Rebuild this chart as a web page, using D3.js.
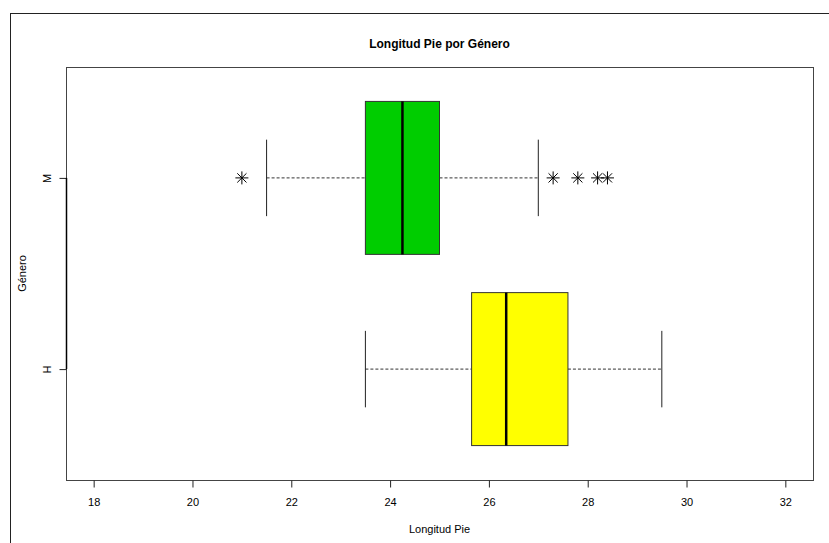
<!DOCTYPE html>
<html>
<head>
<meta charset="utf-8">
<script src="https://cdn.jsdelivr.net/npm/d3@7"></script>
<style>
  html, body { margin: 0; padding: 0; background: #fff; }
  svg { display: block; font-family: "Liberation Sans", Arial, sans-serif; }
</style>
</head>
<body>
<svg id="chart" width="829" height="543"></svg>
<script>
// ---- data ----
const categories = ["H", "M"];
const q1 = [25.65, 23.5];
const medians = [26.35, 24.25];
const q3 = [27.6, 25.0];
const whiskerLow = [23.5, 21.5];
const whiskerHigh = [29.5, 27.0];
const outliersH = [];
const outliersM = [21.0, 27.3, 27.8, 28.2, 28.4];
const boxColors = ["#FFFF00", "#00CD00"];
const xTicks = [18, 20, 22, 24, 26, 28, 30, 32];
const title = "Longitud Pie por Género";
const xLabel = "Longitud Pie";
const yLabel = "Género";

const outliers = [outliersH, outliersM];

// ---- layout ----
const svg = d3.select("#chart");
const plot = { left: 66, right: 813, top: 67, bottom: 480 };

const xPad = (xTicks[xTicks.length - 1] - xTicks[0]) * 0.04;
const x = d3.scaleLinear()
  .domain([xTicks[0] - xPad, xTicks[xTicks.length - 1] + xPad])
  .range([plot.left, plot.right]);

const yPad = (categories.length + 0.5 - 0.5) * 0.04;
const y = d3.scaleLinear()
  .domain([0.5 - yPad, categories.length + 0.5 + yPad])
  .range([plot.bottom, plot.top]);

// outer frame
svg.append("rect")
  .attr("x", 10.5).attr("y", 13.5)
  .attr("width", 840).attr("height", 560)
  .attr("fill", "none").attr("stroke", "#222").attr("stroke-width", 1);

// plot frame
svg.append("rect")
  .attr("x", plot.left + 0.5).attr("y", plot.top + 0.5)
  .attr("width", plot.right - plot.left).attr("height", plot.bottom - plot.top)
  .attr("fill", "none").attr("stroke", "#444").attr("stroke-width", 1);

// title
svg.append("text")
  .attr("x", (plot.left + plot.right) / 2).attr("y", 48)
  .attr("text-anchor", "middle")
  .attr("font-size", 12).attr("font-weight", "bold")
  .text(title);

// x axis
const xAxis = svg.append("g")
  .attr("transform", `translate(0,${plot.bottom + 0.5})`)
  .call(d3.axisBottom(x).tickValues(xTicks).tickSize(7).tickSizeOuter(0).tickFormat(d3.format("d")));
xAxis.select(".domain").remove();
xAxis.selectAll(".tick line").attr("stroke", "#222");
xAxis.selectAll(".tick text")
  .attr("y", 25.5).attr("dy", null)
  .attr("font-size", 11).attr("font-family", "Liberation Sans, Arial, sans-serif").attr("fill", "#000");

svg.append("text")
  .attr("x", (plot.left + plot.right) / 2).attr("y", 533)
  .attr("text-anchor", "middle").attr("font-size", 11)
  .text(xLabel);

// y axis
const yAxis = svg.append("g")
  .attr("transform", `translate(${plot.left + 0.5},0)`)
  .call(d3.axisLeft(y).tickValues(categories.map((c, i) => i + 1)).tickSize(7)
    .tickFormat((d) => categories[d - 1]));
yAxis.select(".domain").remove();
yAxis.selectAll(".tick line").attr("stroke", "#222");
yAxis.selectAll(".tick text")
  .attr("x", 0).attr("dy", null).attr("y", -16)
  .attr("transform", "rotate(-90)")
  .attr("text-anchor", "middle")
  .attr("font-size", 11).attr("font-family", "Liberation Sans, Arial, sans-serif").attr("fill", "#000");
svg.append("line")
  .attr("x1", plot.left + 0.5).attr("x2", plot.left + 0.5)
  .attr("y1", y(1)).attr("y2", y(categories.length))
  .attr("stroke", "#000").attr("stroke-width", 1.5);

svg.append("text")
  .attr("transform", `translate(26,${(plot.top + plot.bottom) / 2}) rotate(-90)`)
  .attr("text-anchor", "middle").attr("font-size", 11)
  .text(yLabel);

// boxes
const halfBox = 0.4;
const halfCap = 0.2;
categories.forEach((c, i) => {
  const pos = i + 1;
  const g = svg.append("g");
  const yc = y(pos);
  // whiskers (dashed)
  g.append("line")
    .attr("x1", x(whiskerLow[i])).attr("x2", x(q1[i]))
    .attr("y1", yc).attr("y2", yc)
    .attr("stroke", "#333").attr("stroke-dasharray", "3,2");
  g.append("line")
    .attr("x1", x(q3[i])).attr("x2", x(whiskerHigh[i]))
    .attr("y1", yc).attr("y2", yc)
    .attr("stroke", "#333").attr("stroke-dasharray", "3,2");
  // caps
  [whiskerLow[i], whiskerHigh[i]].forEach((v) => {
    g.append("line")
      .attr("x1", x(v)).attr("x2", x(v))
      .attr("y1", y(pos + halfCap)).attr("y2", y(pos - halfCap))
      .attr("stroke", "#222");
  });
  // box
  g.append("rect")
    .attr("x", x(q1[i])).attr("width", x(q3[i]) - x(q1[i]))
    .attr("y", y(pos + halfBox)).attr("height", y(pos - halfBox) - y(pos + halfBox))
    .attr("fill", boxColors[i]).attr("stroke", "#333").attr("stroke-width", 1);
  // median
  g.append("line")
    .attr("x1", x(medians[i])).attr("x2", x(medians[i]))
    .attr("y1", y(pos + halfBox)).attr("y2", y(pos - halfBox))
    .attr("stroke", "#000").attr("stroke-width", 2.5);
  // outliers (asterisk)
  outliers[i].forEach((v) => {
    const cx = x(v), r = 6.5, d = 4.6;
    const s = g.append("g").attr("stroke", "#000").attr("stroke-width", 1);
    s.append("line").attr("x1", cx - r).attr("x2", cx + r).attr("y1", yc).attr("y2", yc);
    s.append("line").attr("x1", cx).attr("x2", cx).attr("y1", yc - r).attr("y2", yc + r);
    s.append("line").attr("x1", cx - d).attr("x2", cx + d).attr("y1", yc - d).attr("y2", yc + d);
    s.append("line").attr("x1", cx - d).attr("x2", cx + d).attr("y1", yc + d).attr("y2", yc - d);
  });
});
</script>
</body>
</html>
